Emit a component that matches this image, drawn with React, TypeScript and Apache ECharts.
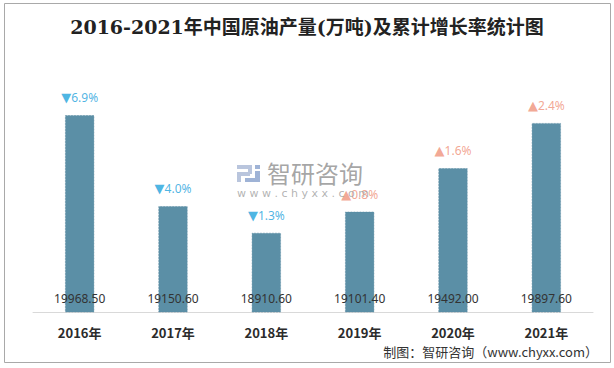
import React, { useEffect, useRef } from "react";
import * as echarts from "echarts";

const categories = ["2016年", "2017年", "2018年", "2019年", "2020年", "2021年"];
const output = [19968.5, 19150.6, 18910.6, 19101.4, 19492.0, 19897.6];
const growth = [-6.9, -4.0, -1.3, 0.8, 1.6, 2.4];

const CJK = "'Noto Sans CJK SC', 'Noto Sans', sans-serif";

export default function App() {
  const ref = useRef<HTMLDivElement>(null);
  useEffect(() => {
    if (!ref.current) return;
    const chart = echarts.init(ref.current, undefined, { renderer: "svg" });
    chart.setOption({
      animation: false,
      backgroundColor: "#ffffff",
      title: {
        text: "2016-2021年中国原油产量(万吨)及累计增长率统计图",
        left: "center",
        top: 12,
        textStyle: {
          fontFamily: "'DejaVu Serif', 'Noto Sans CJK SC', serif",
          fontSize: 19,
          fontWeight: "bold",
          color: "#222222",
        },
      },
      grid: { left: 33, right: 21, top: 45, bottom: 56 },
      xAxis: {
        type: "category",
        data: categories,
        axisLine: { lineStyle: { color: "#d9d9d9", width: 1 } },
        axisTick: { show: false },
        axisLabel: {
          margin: 14,
          fontSize: 13,
          fontWeight: "bold",
          color: "#2b2b2b",
          fontFamily: CJK,
        },
      },
      yAxis: {
        type: "value",
        min: 18200,
        max: 20600,
        show: false,
        splitLine: { show: false },
      },
      series: [
        {
          type: "bar",
          data: output,
          barWidth: 29,
          itemStyle: {
            color: "#5b8fa6",
            borderColor: "#5889a0",
            borderType: "dashed",
            borderWidth: 0.5,
          },
          label: {
            show: true,
            position: "insideBottom",
            distance: 8,
            fontSize: 12,
            fontFamily: "'Noto Sans', sans-serif",
            color: "#333333",
            formatter: (p: any) => output[p.dataIndex].toFixed(2),
          },
        },
        {
          type: "scatter",
          data: output,
          symbolSize: 0,
          silent: true,
          label: {
            show: true,
            position: "top",
            distance: 11,
            fontSize: 12,
            fontFamily: "'Noto Sans', sans-serif",
            formatter: (p: any) => {
              const g = growth[p.dataIndex];
              return g < 0
                ? `{dt|▼}{d|${Math.abs(g).toFixed(1)}%}`
                : `{ut|▲}{u|${g.toFixed(1)}%}`;
            },
            rich: {
              dt: { color: "#1ea2dc", fontSize: 13, fontFamily: "'DejaVu Sans', sans-serif" },
              d: { color: "#1ea2dc", fontSize: 12, fontFamily: "'Noto Sans', sans-serif" },
              ut: { color: "#ef9179", fontSize: 13, fontFamily: "'DejaVu Sans', sans-serif" },
              u: { color: "#ef9179", fontSize: 12, fontFamily: "'Noto Sans', sans-serif" },
            },
          },
        },
      ],
      graphic: [
        {
          type: "rect",
          shape: { x: 4.5, y: 3.5, width: 606, height: 359 },
          style: { fill: "none", stroke: "#a9a9a9", lineWidth: 1 },
          silent: true,
        },
        {
          type: "group",
          left: 237,
          top: 165,
          silent: true,
          z: 100,
          children: [
            { type: "rect", shape: { x: 0, y: 0, width: 15, height: 4 }, style: { fill: "#b9c5dd" } },
            { type: "rect", shape: { x: 11, y: 0, width: 4, height: 9 }, style: { fill: "#b9c5dd" } },
            { type: "rect", shape: { x: 0, y: 7, width: 13, height: 4 }, style: { fill: "#b9c5dd" } },
            { type: "rect", shape: { x: 0, y: 7, width: 4, height: 10 }, style: { fill: "#b9c5dd" } },
            { type: "rect", shape: { x: 18, y: 0, width: 5, height: 4 }, style: { fill: "#9fb3d6" } },
            { type: "rect", shape: { x: 18, y: 6, width: 5, height: 11 }, style: { fill: "#9fb3d6" } },
            { type: "rect", shape: { x: 8, y: 13, width: 15, height: 4 }, style: { fill: "#9fb3d6" } },
          ],
        },
        {
          type: "text",
          left: 267,
          top: 160,
          silent: true,
          z: 100,
          style: {
            text: "智研咨询",
            fontSize: 24,
            fontFamily: CJK,
            fill: "rgba(150,150,150,0.85)",
          },
        },
        {
          type: "text",
          left: 237,
          top: 188,
          silent: true,
          z: 100,
          style: {
            text: "w w w . c h y x x . c o m",
            fontSize: 11,
            fontFamily: "'DejaVu Sans', sans-serif",
            fill: "rgba(160,160,160,0.8)",
          },
        },
        {
          type: "text",
          right: 16,
          top: 345,
          silent: true,
          style: {
            text: "制图：智研咨询（www.chyxx.com）",
            fontSize: 13,
            fontFamily: CJK,
            fill: "#333333",
          },
        },
      ],
    });
    return () => chart.dispose();
  }, []);
  return (
    <div
      ref={ref}
      style={{ position: "fixed", left: 0, top: 0, width: 614, height: 368 }}
    />
  );
}
